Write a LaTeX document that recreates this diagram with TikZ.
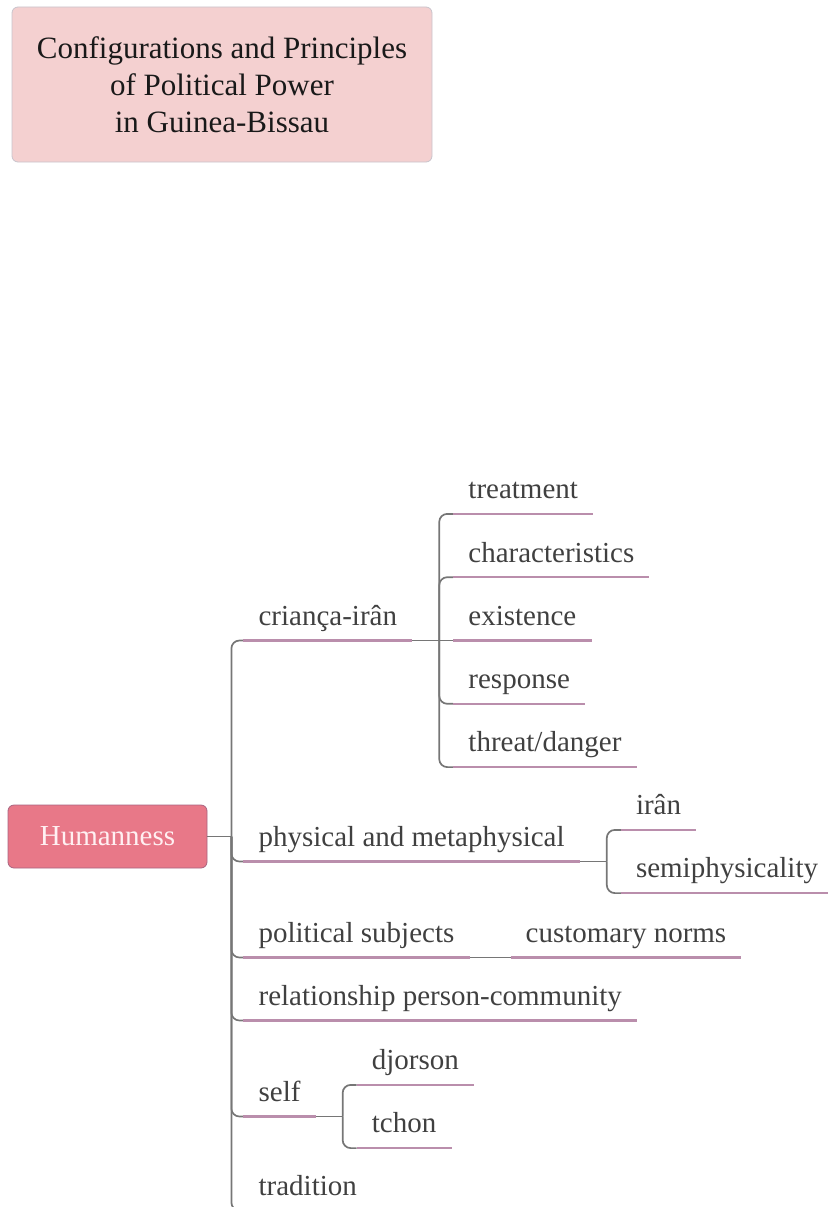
\documentclass[tikz,border=0pt]{standalone}
\usepackage{fontspec}
\setmainfont{Liberation Serif}
\usetikzlibrary{positioning}
\definecolor{titlefill}{RGB}{244,208,208}
\definecolor{titleedge}{RGB}{200,196,204}
\definecolor{rootfill}{RGB}{232,120,136}
\definecolor{rootedge}{RGB}{168,100,128}
\definecolor{rootink}{RGB}{255,240,242}
\definecolor{linkgray}{RGB}{118,118,118}
\definecolor{ulpurple}{RGB}{186,142,172}
\definecolor{inkgray}{RGB}{64,64,64}
\newcommand\dy{63.3pt}
\newcommand\ddy{126.6pt}
\newcommand\hdy{31.6pt}
\newcommand\jx{27pt}
\newcommand\gx{12pt}
\newcommand\lgx{14pt}

\tikzset{
  title/.style={draw=titleedge, fill=titlefill, line width=0.8pt, rounded corners=6pt,
    minimum width=420pt, minimum height=155pt, align=center, text=black!90,
    font=\fontsize{31}{37}\selectfont},
  root/.style={draw=rootedge, fill=rootfill, line width=0.8pt, rounded corners=6pt,
    minimum width=199pt, minimum height=63pt, text=rootink,
    font=\fontsize{29}{35}\selectfont},
  topic/.style={anchor=south west, text=inkgray, inner xsep=15pt, inner ysep=8pt,
    text height=20pt, text depth=7pt, font=\fontsize{29}{35}\selectfont},
  conn/.style={draw=linkgray, line width=1.7pt, rounded corners=8pt},
  uline/.style={draw=ulpurple, line width=2.2pt},
}

\begin{document}
\begin{tikzpicture}[x=1pt, y=-1pt]
  \useasboundingbox (0,0) rectangle (827,1207);
  \node[title] (head) at (222,84.5) {Configurations and Principles\\of Political Power\\in Guinea-Bissau};
  \node[root] (hum) at (107.5,836.5) {Humanness};
  \coordinate[right=24pt of hum] (tk);
  % main branches
  \node[above right=196pt and \gx of tk, topic] (ci) {criança-irân};
  \node[below right=25pt and \gx of tk, topic] (ph) {physical and metaphysical};
  \node[below right=121pt and \gx of tk, topic] (po) {political subjects};
  \node[below right=184pt and \gx of tk, topic] (rl) {relationship person-community};
  \node[below right=280pt and \gx of tk, topic] (sf) {self};
  \node[below right=374pt and \gx of tk, topic] (td) {tradition};
  % joints
  \coordinate[right=\jx of ci.south east] (ci-j);
  \coordinate[right=\jx of ph.south east] (ph-j);
  \coordinate[right=\jx of po.south east] (po-j);
  \coordinate[right=\jx of sf.south east] (sf-j);
  % sub topics
  \node[above right=\ddy and \lgx of ci-j, topic] (tr) {treatment};
  \node[above right=\dy and \lgx of ci-j, topic] (ch) {characteristics};
  \node[right=\lgx of ci-j, topic] (ex) {existence};
  \node[below right=\dy and \lgx of ci-j, topic] (rs) {response};
  \node[below right=\ddy and \lgx of ci-j, topic] (th) {threat/danger};
  \node[above right=\hdy and \lgx of ph-j, topic] (ir) {irân};
  \node[below right=\hdy and \lgx of ph-j, topic] (sp) {semiphysicality};
  \node[right=\lgx of po-j, topic] (cn) {customary norms};
  \node[above right=\hdy and \lgx of sf-j, topic] (dj) {djorson};
  \node[below right=\hdy and \lgx of sf-j, topic] (tc) {tchon};

  \draw[conn] (hum.east) -- (tk);
  \foreach \n in {ci,ph,po,rl,sf,td}
    \draw[conn] (tk) |- (\n.south west);
  \foreach \n in {ci,ph,po,sf}
    \draw[conn] (\n.south east) -- (\n-j);
  \foreach \n in {tr,ch,rs,th}
    \draw[conn] (ci-j) |- (\n.south west);
  \draw[conn] (ci-j) -- (ex.south west);
  \foreach \n in {ir,sp}
    \draw[conn] (ph-j) |- (\n.south west);
  \draw[conn] (po-j) -- (cn.south west);
  \foreach \n in {dj,tc}
    \draw[conn] (sf-j) |- (\n.south west);
  % underlines
  \foreach \n in {ci,ph,po,rl,sf,td,tr,ch,ex,rs,th,ir,sp,cn,dj,tc}
    \draw[uline] (\n.south west) -- (\n.south east);
\end{tikzpicture}
\end{document}
